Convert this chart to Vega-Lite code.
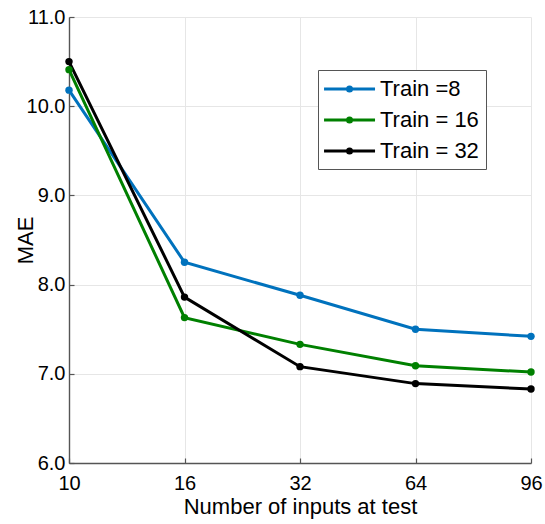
{
  "$schema": "https://vega.github.io/schema/vega-lite/v6.json",
  "autosize": "none",
  "width": 462,
  "height": 446,
  "padding": {"left": 69, "top": 17, "right": 14, "bottom": 61},
  "background": "white",
  "config": {
    "font": "Liberation Sans",
    "view": {"stroke": null},
    "axis": {
      "labelFont": "Liberation Sans",
      "titleFont": "Liberation Sans",
      "labelColor": "#000000",
      "titleColor": "#000000",
      "labelFontSize": 20,
      "titleFontSize": 22,
      "titleFontWeight": "normal",
      "domainColor": "#555555",
      "domainWidth": 1.4,
      "tickColor": "#555555",
      "tickWidth": 1.2,
      "tickSize": -5,
      "gridColor": "#e6e6e6",
      "gridWidth": 1
    }
  },
  "data": {
    "values": [
      {"train": "Train =8", "n": 10, "mae": 10.18},
      {"train": "Train =8", "n": 16, "mae": 8.25},
      {"train": "Train =8", "n": 32, "mae": 7.88},
      {"train": "Train =8", "n": 64, "mae": 7.50},
      {"train": "Train =8", "n": 96, "mae": 7.42},
      {"train": "Train = 16", "n": 10, "mae": 10.41},
      {"train": "Train = 16", "n": 16, "mae": 7.63},
      {"train": "Train = 16", "n": 32, "mae": 7.33},
      {"train": "Train = 16", "n": 64, "mae": 7.09},
      {"train": "Train = 16", "n": 96, "mae": 7.02},
      {"train": "Train = 32", "n": 10, "mae": 10.50},
      {"train": "Train = 32", "n": 16, "mae": 7.86},
      {"train": "Train = 32", "n": 32, "mae": 7.08},
      {"train": "Train = 32", "n": 64, "mae": 6.89},
      {"train": "Train = 32", "n": 96, "mae": 6.83}
    ]
  },
  "mark": {"type": "line", "strokeWidth": 3, "point": {"filled": true, "size": 55, "opacity": 1}},
  "encoding": {
    "x": {
      "field": "n",
      "type": "ordinal",
      "scale": {"type": "point", "padding": 0},
      "axis": {
        "title": "Number of inputs at test",
        "labelAngle": 0,
        "labelPadding": 15,
        "grid": true,
        "titleY": 50,
        "titleBaseline": "alphabetic"
      }
    },
    "y": {
      "field": "mae",
      "type": "quantitative",
      "scale": {"domain": [6, 11], "nice": false, "zero": false},
      "axis": {
        "title": "MAE",
        "values": [6, 7, 8, 9, 10, 11],
        "format": ".1f",
        "labelPadding": 9,
        "grid": true,
        "titleAngle": -90,
        "titleX": -37,
        "titleY": 223,
        "titleAlign": "center",
        "titleBaseline": "alphabetic"
      }
    },
    "color": {
      "field": "train",
      "type": "nominal",
      "sort": ["Train =8", "Train = 16", "Train = 32"],
      "scale": {
        "domain": ["Train =8", "Train = 16", "Train = 32"],
        "range": ["#0072BD", "#008000", "#000000"]
      },
      "legend": {
        "title": null,
        "orient": "none",
        "legendX": 249,
        "legendY": 53,
        "strokeColor": "#555555",
        "fillColor": "white",
        "padding": 7,
        "symbolType": "M-1.27,0H3.73M1.03,0A0.2,0.2 0 1,1 1.43,0A0.2,0.2 0 1,1 1.03,0Z",
        "symbolSize": 416,
        "symbolStrokeWidth": 3,
        "symbolOpacity": 1,
        "labelFont": "Liberation Sans",
        "labelFontSize": 22,
        "labelColor": "#000000",
        "labelOffset": 31,
        "rowPadding": 8,
        "encode": {
          "symbols": {"update": {"fill": {"scale": "color", "field": "value"}, "stroke": {"scale": "color", "field": "value"}}}
        }
      }
    }
  }
}
